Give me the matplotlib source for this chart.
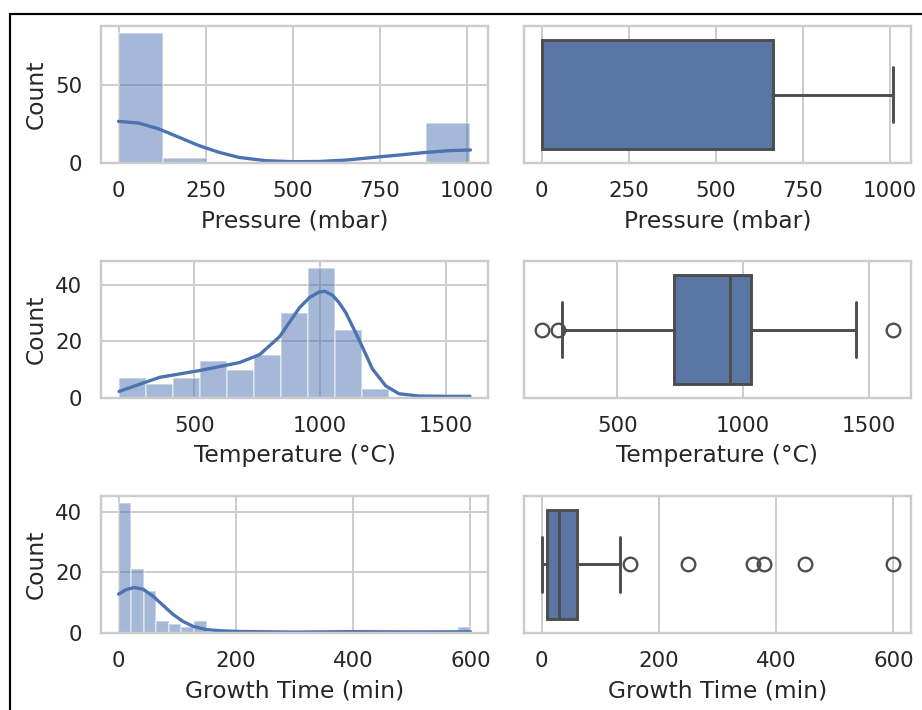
import numpy as np
import matplotlib
matplotlib.use("Agg")
import matplotlib.pyplot as plt
from matplotlib.lines import Line2D
import seaborn as sns

# histogram counts
pressure_range = (0, 1010)
pressure_counts = [84, 3, 0, 0, 0, 0, 0, 26]
temp_range = (199, 1598)
temp_counts = [7, 5, 7, 13, 10, 15, 30, 46, 24, 3, 0, 0, 1]
growth_range = (0, 600)
growth_counts = [43, 21, 14, 4, 3, 2, 4, 0, 0, 0, 0, 0, 0, 0,
                 0, 0, 0, 0, 0, 0, 0, 0, 0, 0, 0, 0, 0, 2]

# kde curves (in count units)
pressure_kde_x = [0, 58, 115, 173, 231, 288, 346, 423, 500, 577, 654, 731, 808, 885, 952, 1010]
pressure_kde_y = [26.8, 25.7, 22.0, 16.6, 11.2, 6.9, 3.6, 1.5, 0.85, 1.0, 1.9, 3.6, 5.2, 6.9, 8.0, 8.4]
temp_kde_x = [201, 284, 363, 443, 522, 601, 680, 760, 839, 918, 958, 997, 1020, 1050, 1076, 1103,
              1156, 1208, 1261, 1314, 1393, 1500, 1596]
temp_kde_y = [2.3, 4.9, 7.3, 8.5, 9.7, 11.1, 12.5, 15.3, 21.6, 31.8, 35.4, 37.4, 37.6, 36.2, 33.6, 30.0,
              20.4, 10.3, 4.3, 1.5, 0.7, 0.6, 0.6]
growth_kde_x = [0, 13, 27, 42, 59, 76, 93, 110, 127, 150, 178, 207, 300, 400, 500, 600]
growth_kde_y = [12.8, 14.3, 15.0, 14.4, 12.1, 9.1, 6.1, 3.8, 2.2, 1.1, 0.7, 0.5, 0.3, 0.45, 0.35, 0.4]

# box plot summaries
pressure_box = dict(whislo=0, q1=0, med=0, q3=666, whishi=1011, fliers=[])
temp_box = dict(whislo=281, q1=724, med=949, q3=1030, whishi=1450, fliers=[199, 265, 1598])
growth_box = dict(whislo=0, q1=10, med=30, q3=60, whishi=134, fliers=[151, 250, 360, 380, 449, 600])

labels = ["Pressure (mbar)", "Temperature (°C)", "Growth Time (min)"]
xticks = [[0, 250, 500, 750, 1000], [500, 1000, 1500], [0, 200, 400, 600]]
yticks = [[0, 50], [0, 20, 40], [0, 20, 40]]

sns.set_theme(style="whitegrid")
blue = "#4C72B0"
box_face = "#5875A4"
line_gray = "#4D4D4D"

fig, axes = plt.subplots(3, 2, figsize=(922 / 140, 710 / 140), dpi=140)
fig.subplots_adjust(left=101 / 922, right=911 / 922, top=1 - 26 / 710, bottom=1 - 633 / 710,
                    wspace=0.093, hspace=0.715)

hists = [(pressure_range, pressure_counts, pressure_kde_x, pressure_kde_y),
         (temp_range, temp_counts, temp_kde_x, temp_kde_y),
         (growth_range, growth_counts, growth_kde_x, growth_kde_y)]
boxes = [pressure_box, temp_box, growth_box]

for i in range(3):
    rng, counts, kx, ky = hists[i]
    edges = np.linspace(rng[0], rng[1], len(counts) + 1)
    ax = axes[i, 0]
    ax.bar(edges[:-1], counts, width=np.diff(edges), align="edge", color=blue, alpha=0.5,
           edgecolor="white", linewidth=0.8)
    ax.plot(kx, ky, color=blue, lw=1.7)
    ax.set_xlabel(labels[i])
    ax.set_ylabel("Count")
    ax.set_xticks(xticks[i])
    ax.set_yticks(yticks[i])

    ax = axes[i, 1]
    ax.bxp([boxes[i]], positions=[0], widths=0.8, capwidths=0.4, orientation="horizontal",
           patch_artist=True,
           boxprops=dict(facecolor=box_face, edgecolor=line_gray, linewidth=1.5),
           whiskerprops=dict(color=line_gray, linewidth=1.5),
           capprops=dict(color=line_gray, linewidth=1.5),
           medianprops=dict(color=line_gray, linewidth=1.5),
           flierprops=dict(marker="o", markerfacecolor="none", markeredgecolor=line_gray,
                           markersize=7, markeredgewidth=1.2))
    ax.set_ylim(0.5, -0.5)
    ax.set_yticks([])
    ax.set_xticks(xticks[i])
    ax.set_xlabel(labels[i])

# black frame from the cropped screenshot
fig.add_artist(Line2D([9.5 / 922, 9.5 / 922], [0, 1 - 13.5 / 710], color="black", lw=1.1))
fig.add_artist(Line2D([9.5 / 922, 1], [1 - 13.5 / 710, 1 - 13.5 / 710], color="black", lw=1.1))

plt.savefig("out.png", dpi=140)
